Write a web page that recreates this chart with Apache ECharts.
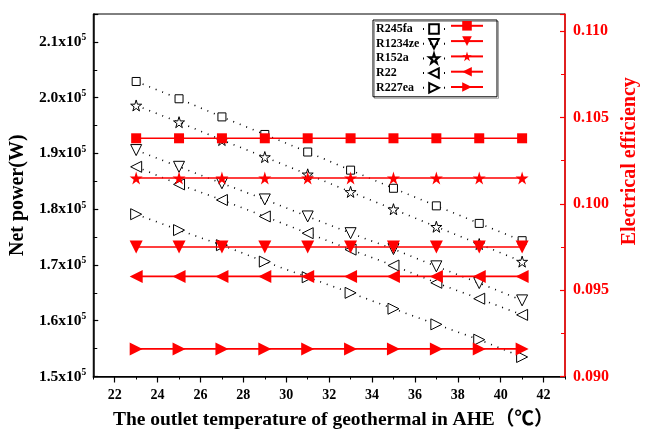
<!DOCTYPE html>
<html>
<head>
<meta charset="utf-8">
<script src="https://cdn.jsdelivr.net/npm/echarts@6/dist/echarts.min.js"></script>
<style>
  html, body { margin: 0; padding: 0; background: #fff; }
  #chart { width: 648px; height: 435px; }
</style>
</head>
<body>
<div id="chart"></div>
<script>
// Outlet temperature of geothermal fluid in the AHE (°C)
const temps = [23, 25, 27, 29, 31, 33, 35, 37, 39, 41];

// Net power (W) per working fluid
const netR245fa  = [202900, 199800, 196550, 193400, 190250, 187000, 183750, 180600, 177450, 174350];
const netR1234ze = [190600, 187600, 184650, 181750, 178700, 175700, 172850, 169750, 166750, 163650];
const netR152a   = [198600, 195600, 192400, 189350, 186250, 183100, 180000, 176850, 173750, 170600];
const netR22     = [187600, 184450, 181650, 178700, 175700, 172750, 169900, 166800, 163950, 161050];
const netR227ea  = [179100, 176250, 173550, 170600, 167800, 165000, 162150, 159350, 156600, 153500];

// Electrical efficiency per working fluid (constant over the temperature range)
const effR245fa  = [0.1038, 0.1038, 0.1038, 0.1038, 0.1038, 0.1038, 0.1038, 0.1038, 0.1038, 0.1038];
const effR1234ze = [0.0975, 0.0975, 0.0975, 0.0975, 0.0975, 0.0975, 0.0975, 0.0975, 0.0975, 0.0975];
const effR152a   = [0.1015, 0.1015, 0.1015, 0.1015, 0.1015, 0.1015, 0.1015, 0.1015, 0.1015, 0.1015];
const effR22     = [0.0958, 0.0958, 0.0958, 0.0958, 0.0958, 0.0958, 0.0958, 0.0958, 0.0958, 0.0958];
const effR227ea  = [0.0916, 0.0916, 0.0916, 0.0916, 0.0916, 0.0916, 0.0916, 0.0916, 0.0916, 0.0916];

const fluids = ['R245fa', 'R1234ze', 'R152a', 'R22', 'R227ea'];

// Axis ticks
const xMajorTicks = [22, 24, 26, 28, 30, 32, 34, 36, 38, 40, 42];
const xMinorTicks = [21, 23, 25, 27, 29, 31, 33, 35, 37, 39, 41, 43];

const FONT = '"Liberation Serif", "Times New Roman", serif';
const RED = '#ff0000';
const STAR = 'path://M50,0 L61,35 L98,35 L68,57 L79,91 L50,70 L21,91 L32,57 L2,35 L39,35 Z';

const netData = [netR245fa, netR1234ze, netR152a, netR22, netR227ea];
const effData = [effR245fa, effR1234ze, effR152a, effR22, effR227ea];
const symbols = [
  { symbol: 'rect', rotate: 0, open: 8, solid: 10 },
  { symbol: 'triangle', rotate: 180, open: 11, solid: 13 },
  { symbol: STAR, rotate: 0, open: 11, solid: 13 },
  { symbol: 'triangle', rotate: 90, open: 11, solid: 13 },
  { symbol: 'triangle', rotate: -90, open: 11, solid: 13 }
];

const pair = arr => temps.map((t, i) => [t, arr[i]]);

const series = [];
fluids.forEach((name, k) => {
  series.push({
    name: name,
    type: 'line',
    xAxisIndex: 0,
    yAxisIndex: 0,
    data: pair(netData[k]),
    symbol: symbols[k].symbol,
    symbolRotate: symbols[k].rotate,
    symbolSize: symbols[k].open,
    color: '#000',
    itemStyle: { color: '#fff', borderColor: '#000', borderWidth: 1 },
    lineStyle: { color: '#000', width: 1.6, type: [1, 6] },
    z: 2,
    animation: false
  });
});
fluids.forEach((name, k) => {
  series.push({
    name: name + ' efficiency',
    type: 'line',
    xAxisIndex: 0,
    yAxisIndex: 1,
    data: pair(effData[k]),
    symbol: symbols[k].symbol,
    symbolRotate: symbols[k].rotate,
    symbolSize: symbols[k].solid,
    color: RED,
    itemStyle: { color: RED, borderWidth: 0 },
    lineStyle: { color: RED, width: 1.6, type: 'solid' },
    z: 3,
    animation: false
  });
});

const supLabel = v => {
  const s = (v / 1e5).toFixed(1);
  return '{a|' + s + 'x10}{b|5}';
};

const option = {
  backgroundColor: '#fff',
  animation: false,
  grid: {
    left: 91, right: 73, top: 14, bottom: 57,
    show: true, borderColor: '#000', borderWidth: 1
  },
  legend: [
    {
      data: fluids,
      orient: 'vertical',
      left: 373,
      top: 20,
      align: 'right',
      itemWidth: 22,
      itemHeight: 12,
      itemGap: 2.7,
      padding: [3, 51, 3, 3],
      borderColor: '#000',
      borderWidth: 1,
      shadowColor: 'rgba(0,0,0,0.35)',
      shadowOffsetX: 1.5,
      shadowOffsetY: 1.5,
      selectedMode: false,
      formatter: name => '{n|' + name + '}',
      textStyle: {
        rich: {
          n: { fontFamily: FONT, fontWeight: 'bold', fontSize: 12, color: '#000', width: 42, align: 'left', lineHeight: 12 }
        }
      }
    },
    {
      data: fluids.map(n => n + ' efficiency'),
      orient: 'vertical',
      left: 450,
      top: 21,
      itemWidth: 32,
      itemHeight: 12,
      itemGap: 5.7,
      padding: 0,
      selectedMode: false,
      formatter: () => '',
      textStyle: { fontSize: 12, lineHeight: 12, padding: 0 }
    }
  ],
  xAxis: [
    {
      type: 'value',
      min: 21,
      max: 43,
      position: 'bottom',
      name: 'The outlet temperature of geothermal in AHE（℃）',
      nameLocation: 'middle',
      nameGap: 34,
      nameTextStyle: {
        fontFamily: '"Liberation Serif", "Noto Sans CJK SC", serif',
        fontWeight: 'bold', fontSize: 19.5, color: '#000', padding: [0, 0, 0, 8]
      },
      axisLine: { show: true, lineStyle: { color: '#000', width: 1.5 } },
      axisTick: { show: true, inside: false, length: 6, customValues: xMajorTicks, lineStyle: { color: '#000', width: 1.2 } },
      axisLabel: {
        customValues: xMajorTicks,
        margin: 12,
        fontFamily: FONT, fontWeight: 'bold', fontSize: 14, color: '#000'
      },
      splitLine: { show: false }
    },
    {
      type: 'value',
      min: 21,
      max: 43,
      position: 'bottom',
      axisLine: { show: false },
      axisTick: { show: true, inside: false, length: 3, customValues: xMinorTicks, lineStyle: { color: '#000', width: 1 } },
      axisLabel: { show: false },
      splitLine: { show: false }
    }
  ],
  yAxis: [
    {
      type: 'value',
      min: 150000,
      max: 215000,
      interval: 10000,
      position: 'left',
      name: 'Net power(W)',
      nameLocation: 'middle',
      nameRotate: 90,
      nameGap: 61,
      nameTextStyle: { fontFamily: FONT, fontWeight: 'bold', fontSize: 20, color: '#000' },
      axisLine: { show: true, lineStyle: { color: '#000', width: 1.5 } },
      axisTick: { show: true, inside: true, length: 5, lineStyle: { color: '#000', width: 1.2 } },
      minorTick: { show: true, splitNumber: 2, length: 4, lineStyle: { color: '#000', width: 1 } },
      axisLabel: {
        showMaxLabel: false,
        margin: 7,
        formatter: supLabel,
        rich: {
          a: { fontFamily: FONT, fontWeight: 'bold', fontSize: 15.5, color: '#000', lineHeight: 18 },
          b: { fontFamily: FONT, fontWeight: 'bold', fontSize: 9.5, color: '#000', verticalAlign: 'top', lineHeight: 18, padding: [0, 0, 7, 0] }
        }
      },
      splitLine: { show: false }
    },
    {
      type: 'value',
      min: 0.09,
      max: 0.111,
      interval: 0.005,
      position: 'right',
      name: 'Electrical efficiency',
      nameLocation: 'middle',
      nameRotate: 90,
      nameGap: 55,
      nameTextStyle: { fontFamily: FONT, fontWeight: 'bold', fontSize: 20, color: RED, padding: [0, 0, 0, 68] },
      axisLine: { show: true, lineStyle: { color: RED, width: 1.5 } },
      axisTick: { show: true, inside: true, length: 5, lineStyle: { color: RED, width: 1.2 } },
      minorTick: { show: true, splitNumber: 2, length: 4, lineStyle: { color: RED, width: 1 } },
      axisLabel: {
        showMaxLabel: false,
        margin: 8,
        formatter: v => v.toFixed(3),
        fontFamily: FONT, fontWeight: 'bold', fontSize: 16, color: RED
      },
      splitLine: { show: false }
    }
  ],
  series: series
};

const chart = echarts.init(document.getElementById('chart'), null, { renderer: 'canvas' });
chart.setOption(option);
</script>
</body>
</html>
